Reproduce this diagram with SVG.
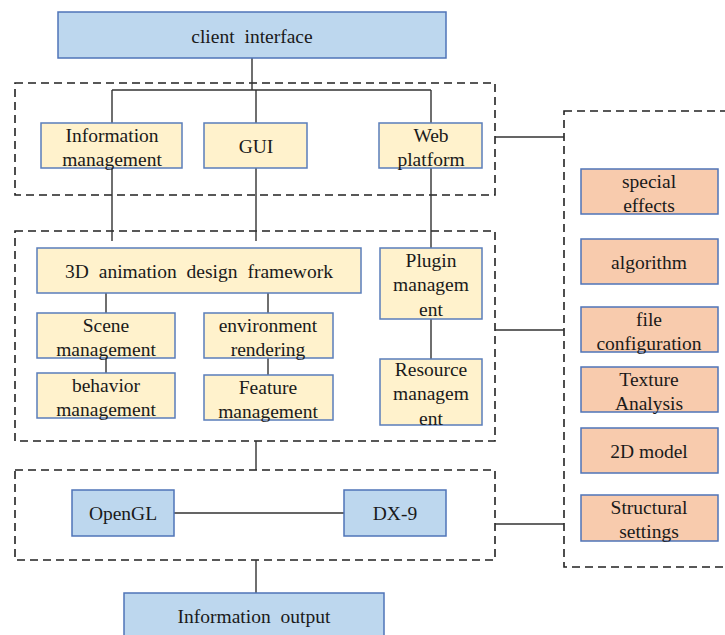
<svg xmlns="http://www.w3.org/2000/svg" width="725" height="635" viewBox="0 0 725 635">
<style>
.blue{fill:#BDD7EE;stroke:#4F74B8;stroke-width:1.5}
.yel{fill:#FFF2CC;stroke:#5A7DBB;stroke-width:1.5}
.ora{fill:#F8CBAD;stroke:#4F74B8;stroke-width:1.5}
.dash{fill:none;stroke:#222;stroke-width:1.6;stroke-dasharray:8 5}
.ln{fill:none;stroke:#333;stroke-width:1.4}
</style>
<rect width="725" height="635" fill="#fff"/>
<g id="groups">
<rect class="dash" x="15" y="83" width="480" height="112"/>
<rect class="dash" x="15" y="231" width="480" height="210"/>
<rect class="dash" x="15" y="470" width="480" height="90"/>
<rect class="dash" x="564" y="111" width="170" height="456"/>
</g>
<g id="connectors">
<path class="ln" d="M252 58V90M112 90H431M112 90V123M256 90V123M431 90V123"/>
<path class="ln" d="M112 168V241M256 168V241M431 168V248"/>
<path class="ln" d="M106 293V313M268 293V313M106 358V373M268 358V375M431 319V359"/>
<path class="ln" d="M256 441V470M174 513H344M256 560V593"/>
<path class="ln" d="M495 137H564M495 330H564M495 524H564"/>
</g>
<g font-family="Liberation Serif" font-size="19.5" fill="#1a1a1a" text-anchor="middle">
<g id="client-interface"><rect class="blue" x="58" y="12" width="388" height="46"/><text x="252" y="43" word-spacing="5">client interface</text></g>
<g id="information-management"><rect class="yel" x="41" y="123" width="141" height="45"/><text x="112" y="142">Information</text><text x="112" y="166">management</text></g>
<g id="gui"><rect class="yel" x="204" y="123" width="103" height="45"/><text x="256" y="153">GUI</text></g>
<g id="web-platform"><rect class="yel" x="379" y="123" width="103" height="45"/><text x="431" y="142">Web</text><text x="431" y="166">platform</text></g>
<g id="framework"><rect class="yel" x="37" y="248" width="324" height="45"/><text x="199" y="278" word-spacing="5">3D animation design framework</text></g>
<g id="plugin-management"><rect class="yel" x="380" y="248" width="102" height="71"/><text x="431" y="267">Plugin</text><text x="431" y="291">managem</text><text x="431" y="316">ent</text></g>
<g id="scene-management"><rect class="yel" x="37" y="313" width="138" height="45"/><text x="106" y="332">Scene</text><text x="106" y="356">management</text></g>
<g id="environment-rendering"><rect class="yel" x="204" y="313" width="129" height="45"/><text x="268" y="332">environment</text><text x="268" y="356">rendering</text></g>
<g id="behavior-management"><rect class="yel" x="37" y="373" width="138" height="45"/><text x="106" y="392">behavior</text><text x="106" y="416">management</text></g>
<g id="feature-management"><rect class="yel" x="204" y="375" width="129" height="45"/><text x="268" y="394">Feature</text><text x="268" y="418">management</text></g>
<g id="resource-management"><rect class="yel" x="380" y="359" width="102" height="66"/><text x="431" y="376">Resource</text><text x="431" y="400">managem</text><text x="431" y="425">ent</text></g>
<g id="opengl"><rect class="blue" x="72" y="490" width="102" height="46"/><text x="123" y="520">OpenGL</text></g>
<g id="dx9"><rect class="blue" x="344" y="490" width="102" height="46"/><text x="395" y="520">DX-9</text></g>
<g id="information-output"><rect class="blue" x="124" y="593" width="260" height="46"/><text x="254" y="623" word-spacing="5">Information output</text></g>
<g id="special-effects"><rect class="ora" x="581" y="169" width="137" height="45"/><text x="649" y="188">special</text><text x="649" y="212">effects</text></g>
<g id="algorithm"><rect class="ora" x="581" y="239" width="137" height="45"/><text x="649" y="269">algorithm</text></g>
<g id="file-configuration"><rect class="ora" x="581" y="307" width="137" height="45"/><text x="649" y="326">file</text><text x="649" y="350">configuration</text></g>
<g id="texture-analysis"><rect class="ora" x="581" y="367" width="137" height="45"/><text x="649" y="386">Texture</text><text x="649" y="410">Analysis</text></g>
<g id="model-2d"><rect class="ora" x="581" y="428" width="137" height="45"/><text x="649" y="458">2D model</text></g>
<g id="structural-settings"><rect class="ora" x="581" y="495" width="137" height="46"/><text x="649" y="514">Structural</text><text x="649" y="538">settings</text></g>
</g>
</svg>
